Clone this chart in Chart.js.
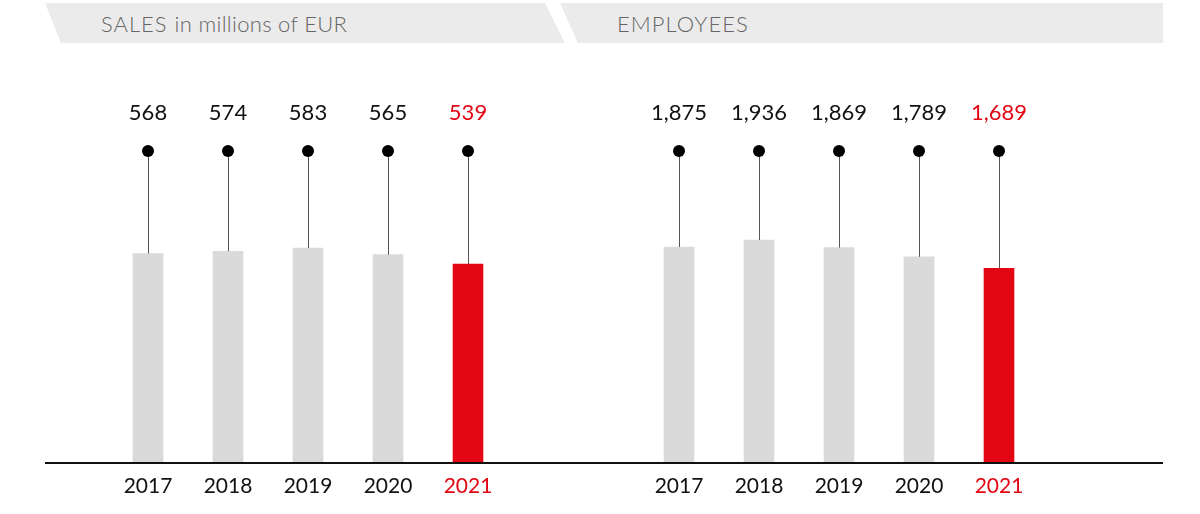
<!DOCTYPE html>
<html>
<head>
<meta charset="utf-8">
<script src="https://cdn.jsdelivr.net/npm/chart.js@4.4.1/dist/chart.umd.min.js"></script>
<style>
  body { margin: 0; background: #fff; width: 1200px; height: 514px; overflow: hidden; position: relative; font-family: Lato, sans-serif; }
  .band { position: absolute; top: 3px; height: 40px; background: #ebebeb; }
  #bandL { left: 45px; width: 520px; clip-path: polygon(0 0, 500px 0, 520px 100%, 16px 100%); }
  #bandR { left: 560px; width: 603px; clip-path: polygon(0 0, 100% 0, 100% 100%, 18px 100%); }
  .band span { position: absolute; top: 0; line-height: 42px; color: #666; font-size: 22px; font-weight: 300; letter-spacing: 1px; white-space: nowrap; }
  .wrap { position: absolute; top: 0; height: 514px; }
</style>
</head>
<body>
<div class="band" id="bandL"><span style="left:56px">SALES <span style="position:static;letter-spacing:0.3px">in millions of EUR</span></span></div>
<div class="band" id="bandR"><span style="left:57px">EMPLOYEES</span></div>
<div class="wrap" style="left:45px"><canvas id="sales" width="555" height="514"></canvas></div>
<div class="wrap" style="left:600px"><canvas id="staff" width="563" height="514"></canvas></div>
<script>
const years = ['2017', '2018', '2019', '2020', '2021'];
const sales = [568, 574, 583, 565, 539];
const employees = [1875, 1936, 1869, 1789, 1689];

const RED = '#e30613';
const GRAY = '#dadada';

// dots, connector lines, value labels and the black baseline
const decor = {
    id: 'decor',
    afterDatasetsDraw: function (chart) {
        const ctx = chart.ctx;
        const area = chart.chartArea;
        const vals = chart.data.datasets[0].data;
        const last = vals.length - 1;
        const dotY = area.top + 56;
        ctx.save();
        chart.getDatasetMeta(0).data.forEach(function (bar, i) {
            const x = Math.round(bar.x) + 0.5;
            ctx.strokeStyle = '#555';
            ctx.lineWidth = 1;
            ctx.beginPath();
            ctx.moveTo(x, dotY);
            ctx.lineTo(x, bar.y);
            ctx.stroke();

            ctx.fillStyle = '#000';
            ctx.beginPath();
            ctx.arc(bar.x, dotY, 6, 0, Math.PI * 2);
            ctx.fill();

            ctx.fillStyle = i === last ? RED : '#111';
            ctx.font = '22px Lato';
            ctx.textAlign = 'center';
            ctx.textBaseline = 'middle';
            ctx.fillText(vals[i].toLocaleString('en-US'), bar.x, area.top + 18);
        });
        const y0 = chart.scales.y.getPixelForValue(0);
        ctx.fillStyle = '#111';
        ctx.fillRect(0, Math.round(y0), chart.width, 2);
        ctx.restore();
    }
};

function makeChart(id, values, yMax, padLeft, padRight) {
    const last = values.length - 1;
    return new Chart(document.getElementById(id), {
        type: 'bar',
        data: {
            labels: years,
            datasets: [{
                data: values,
                backgroundColor: values.map(function (v, i) { return i === last ? RED : GRAY; }),
                barThickness: 30
            }]
        },
        options: {
            responsive: false,
            animation: false,
            layout: { padding: { top: 95, left: padLeft, right: padRight, bottom: 0 } },
            plugins: { legend: { display: false }, tooltip: { enabled: false } },
            scales: {
                x: {
                    grid: { display: false, drawTicks: false },
                    border: { display: false },
                    ticks: {
                        padding: 12,
                        color: function (c) { return c.index === last ? RED : '#111'; },
                        font: { family: 'Lato', size: 21 }
                    },
                    afterFit: function (s) { s.height = 52; }
                },
                y: { display: false, min: 0, max: yMax }
            }
        },
        plugins: [decor]
    });
}

makeChart('sales', sales, 1000, 63, 92);
makeChart('staff', employees, 3200, 39, 124);
</script>
</body>
</html>
